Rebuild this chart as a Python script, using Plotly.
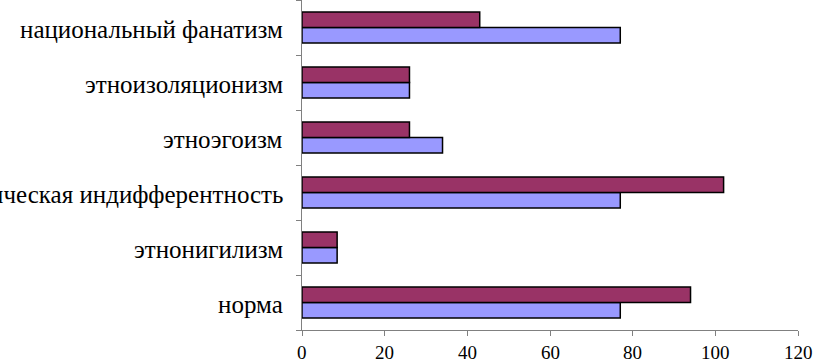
import plotly.graph_objects as go

categories = ["норма", "этнонигилизм", "этническая индифферентность",
              "этноэгоизм", "этноизоляционизм", "национальный фанатизм"]
series_a = [77, 8.5, 77, 34, 26, 77]      # lavender (lower bar)
series_b = [94, 8.5, 102, 26, 26, 43]     # purple (upper bar)
x_ticks = [0, 20, 40, 60, 80, 100, 120]

SERIF = "Liberation Serif"

fig = go.Figure()
fig.add_trace(go.Bar(y=categories, x=series_a, orientation="h",
                     marker=dict(color="#9999FF", line=dict(color="#000000", width=1.5)),
                     showlegend=False))
fig.add_trace(go.Bar(y=categories, x=series_b, orientation="h",
                     marker=dict(color="#993366", line=dict(color="#000000", width=1.5)),
                     showlegend=False))

fig.update_layout(
    width=813, height=360,
    margin=dict(l=302, r=15, t=0, b=30, autoexpand=False),
    barmode="group", bargap=0.44, bargroupgap=0,
    plot_bgcolor="white", paper_bgcolor="white",
)

# category labels (serif) beside the y axis
for c in categories:
    fig.add_annotation(x=0, xref="paper", y=c, yref="y", text=c, showarrow=False,
                       xanchor="right", yanchor="middle", xshift=-17, yshift=-2,
                       font=dict(family=SERIF, size=25, color="black"))
# x tick labels (serif) under the x axis
for v in x_ticks:
    fig.add_annotation(x=v, xref="x", y=0, yref="paper", text=str(v), showarrow=False,
                       xanchor="center", yanchor="top", yshift=-10,
                       font=dict(family=SERIF, size=19, color="black"))

fig.update_xaxes(range=[0, 120], tickvals=x_ticks, showticklabels=False,
                 showgrid=False, zeroline=False, showline=True, linecolor="#808080",
                 linewidth=1, ticks="outside", ticklen=5, tickcolor="#808080")
fig.update_yaxes(range=[-0.5, 5.5], showgrid=False, zeroline=False, showline=True,
                 showticklabels=False,
                 linecolor="#808080", linewidth=1, ticks="outside", ticklen=5,
                 tickcolor="#808080", tickson="boundaries")

fig.write_html("out.html", config={"displayModeBar": False})
with open("out.html", encoding="utf-8") as f:
    html = f.read()
html = html.replace("<body>", '<body style="margin:0;padding:0;overflow:hidden">', 1)
with open("out.html", "w", encoding="utf-8") as f:
    f.write(html)
